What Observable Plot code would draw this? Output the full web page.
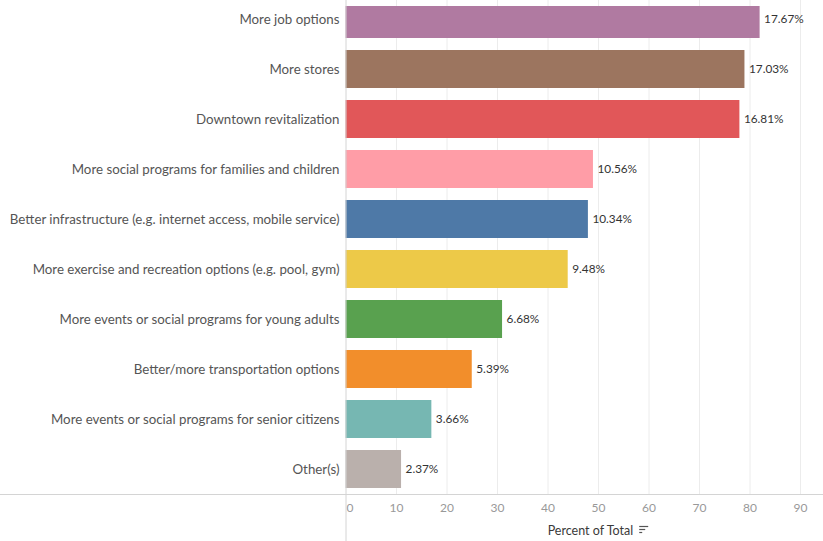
<!DOCTYPE html>
<html>
<head>
<meta charset="utf-8">
<script src="https://cdn.jsdelivr.net/npm/d3@7"></script>
<script src="https://cdn.jsdelivr.net/npm/@observablehq/plot@0.6"></script>
<style>
  html, body { margin: 0; padding: 0; background: #fff; }
  #chart svg { display: block; }
</style>
</head>
<body>
<div id="chart"></div>
<script>
const categories = [
  "More job options",
  "More stores",
  "Downtown revitalization",
  "More social programs for families and children",
  "Better infrastructure (e.g. internet access, mobile service)",
  "More exercise and recreation options (e.g. pool, gym)",
  "More events or social programs for young adults",
  "Better/more transportation options",
  "More events or social programs for senior citizens",
  "Other(s)"
];
const counts = [82, 79, 78, 49, 48, 44, 31, 25, 17, 11];
const percentLabels = ["17.67%", "17.03%", "16.81%", "10.56%", "10.34%", "9.48%", "6.68%", "5.39%", "3.66%", "2.37%"];
const colors = ["#b07aa1", "#9c755f", "#e15759", "#ff9da7", "#4e79a7", "#edc948", "#59a14f", "#f28e2b", "#76b7b2", "#bab0ac"];
const xTicks = [0, 10, 20, 30, 40, 50, 60, 70, 80, 90];
const xLabel = "Percent of Total";

const data = categories.map((c, i) => ({category: c, value: counts[i], label: percentLabels[i], color: colors[i]}));

const W = 823, H = 541;
const font = "Lato, 'Open Sans', sans-serif";

const chart = Plot.plot({
  width: W,
  height: H,
  marginLeft: 345,
  marginRight: 23,
  marginTop: 6,
  marginBottom: 47,
  style: {fontFamily: font, background: "#fff"},
  x: {domain: [0, 90], range: [345.5, 800], axis: null},
  y: {domain: categories, range: [-7, 494], paddingInner: 0.25, paddingOuter: 0.125, axis: null},
  color: {type: "identity"},
  marks: [
    Plot.ruleX(xTicks.slice(1), {stroke: "#ececec", strokeWidth: 1, insetTop: -6}),
    Plot.barX(data, {y: "category", x: "value", fill: "color", clip: true}),
    Plot.text(data, {y: "category", x: "value", text: "label", textAnchor: "start", dx: 4, fontSize: 11.8, fill: "#333"}),
    Plot.text(data, {y: "category", text: "category", frameAnchor: "left", textAnchor: "end", dx: -6, fontSize: 13.3, fill: "#555"}),
    Plot.axisX([0], {anchor: "bottom", tickSize: 0, tickPadding: 9, fontSize: 12, color: "#999", dx: 4, label: null}),
    Plot.axisX(xTicks.slice(1), {anchor: "bottom", tickSize: 0, tickPadding: 9, fontSize: 12, color: "#999", label: null}),
    Plot.ruleX([0], {stroke: "#d4d4d4", strokeWidth: 1, insetTop: -6, insetBottom: -47})
  ]
});

document.getElementById("chart").appendChild(chart);

const svg = d3.select(chart);
const xs = chart.scale("x");
// full-width baseline of the axis
svg.append("line")
  .attr("x1", 0).attr("x2", W)
  .attr("y1", H - 47 + 0.5).attr("y2", H - 47 + 0.5)
  .attr("stroke", "#d4d4d4").attr("stroke-width", 1);
// axis title
const cx = xs.apply(48.5);
const title = svg.append("text")
  .attr("x", cx).attr("y", H - 6)
  .attr("text-anchor", "middle")
  .attr("font-family", font)
  .attr("font-size", 12.5)
  .attr("fill", "#3a3a3a")
  .text(xLabel);
const bb = title.node().getBBox();
const ix = bb.x + bb.width + 6, iy = H - 15;
[9, 6, 3].forEach((len, i) => {
  svg.append("line")
    .attr("x1", ix).attr("x2", ix + len)
    .attr("y1", iy + i * 3 + 0.5).attr("y2", iy + i * 3 + 0.5)
    .attr("stroke", "#555").attr("stroke-width", 1.2);
});
</script>
</body>
</html>
